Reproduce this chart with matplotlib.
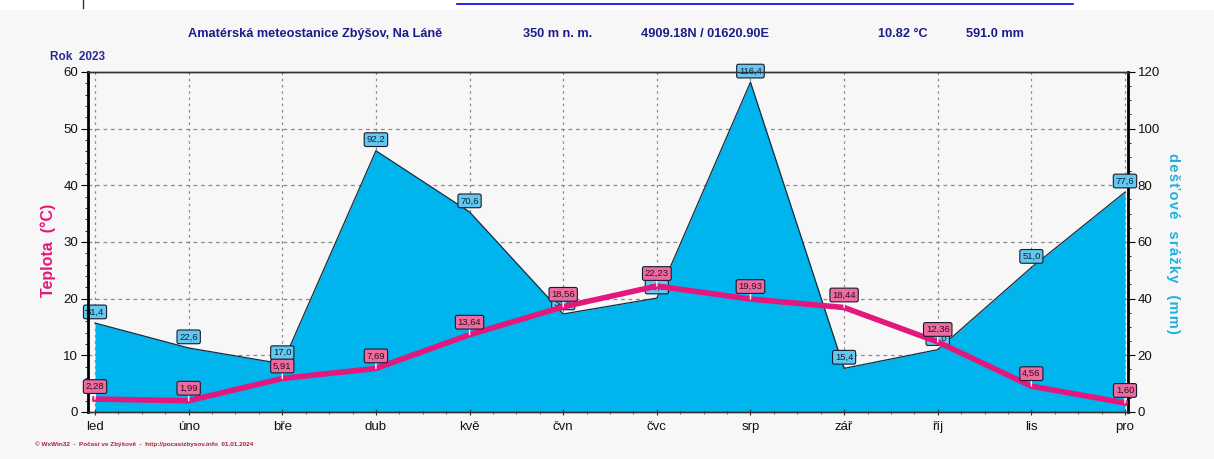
import matplotlib
matplotlib.use("Agg")
import matplotlib.pyplot as plt
from matplotlib.ticker import MultipleLocator
from matplotlib.lines import Line2D
from matplotlib.patches import Rectangle

months = ["led", "úno", "bře", "dub", "kvě", "čvn", "čvc", "srp", "zář", "říj", "lis", "pro"]
temperature = [2.28, 1.99, 5.91, 7.69, 13.64, 18.56, 22.23, 19.93, 18.44, 12.36, 4.56, 1.60]
precipitation = [31.4, 22.6, 17.0, 92.2, 70.6, 34.6, 40.2, 116.4, 15.4, 22.0, 51.0, 77.6]

title_parts = ["Amatérská meteostanice Zbýšov, Na Láně", "350 m n. m.",
               "4909.18N / 01620.90E", "10.82 °C", "591.0 mm"]
year_label = "Rok  2023"
left_label = "Teplota  (°C)"
right_label = "dešťové  srážky  (mm)"
footer = "© WxWin32  -  Počasí ve Zbýšově  -  http://pocasizbysov.info  01.01.2024"

W, H = 1214, 459
BG = "#f7f7f7"
BLUE = "#00b4ee"
PINK = "#e4177c"
TITLE_C = "#1c1c8a"

plt.rcParams['font.family'] = ['Liberation Sans', 'DejaVu Sans']

fig = plt.figure(figsize=(W / 100, H / 100), dpi=100, facecolor=BG)

# screenshot remnants: white top strip with link underline
fig.patches.append(Rectangle((0, 1 - 10 / H), 1, 10 / H, transform=fig.transFigure,
                             facecolor="white", edgecolor="none", zorder=0))
fig.lines.append(Line2D([457 / W, 1073 / W], [1 - 4 / H, 1 - 4 / H], transform=fig.transFigure,
                        color="#0000ee", lw=1.2))
fig.lines.append(Line2D([83 / W, 83 / W], [1 - 8 / H, 1.0], transform=fig.transFigure,
                        color="#333333", lw=1))

x0, x1, yb, yt = 88, 1128, 412, 72
ax = fig.add_axes([x0 / W, 1 - yb / H, (x1 - x0) / W, (yb - yt) / H])
ax2 = ax.twinx()
ax.set_zorder(2)
ax2.set_zorder(1)
ax.patch.set_visible(False)
ax2.patch.set_visible(True)
ax2.patch.set_facecolor(BG)

xs = list(range(len(months)))
ax.set_xlim(-0.075, 11.032)
ax.set_ylim(0, 60)
ax2.set_ylim(0, 120)

# grid (behind area) on ax2
ax2.xaxis.set_visible(True)
ax2.set_xticks(xs)
ax2.tick_params(axis='x', which='both', bottom=False, top=False, labelbottom=False, labeltop=False)
ax2.yaxis.set_major_locator(MultipleLocator(20))
ax2.yaxis.set_minor_locator(MultipleLocator(5))
ax2.set_axisbelow(True)
ax2.grid(True, which='major', axis='y', color="#8a8a8a", lw=0.9, ls=(0, (3, 3)))
ax2.grid(True, which='major', axis='x', color="#8a8a8a", lw=0.9, ls=(0, (2, 3)))

# precipitation area
ax2.fill_between(xs, precipitation, 0, color=BLUE, lw=0, zorder=2)
ax2.plot(xs, precipitation, color="#1a2a3a", lw=0.9, zorder=3)
for x, v in zip(xs, precipitation):
    ax2.annotate(f"{v:.1f}".replace('.', ','), (x, v), xytext=(0, 8), textcoords='offset points',
                 ha='center', va='center', fontsize=6.8, color="#10203a", zorder=5,
                 annotation_clip=False,
                 bbox=dict(boxstyle="round,pad=0.25,rounding_size=0.2", fc="#62c8ef",
                           ec="#1a1a2a", lw=0.8))

# temperature line
ax.plot(xs, temperature, color=PINK, lw=4.0, solid_joinstyle='round', zorder=3)
for x, v in zip(xs, temperature):
    ax.annotate(f"{v:.2f}".replace('.', ','), (x, v), xytext=(0, 9), textcoords='offset points',
                ha='center', va='center', fontsize=6.8, color="#2a1020", zorder=6,
                annotation_clip=False,
                bbox=dict(boxstyle="round,pad=0.25,rounding_size=0.2", fc="#ee6ba2",
                          ec="#1a1a2a", lw=0.8),
                arrowprops=dict(arrowstyle='-', color='white', lw=1.0, shrinkA=0, shrinkB=0))

# axes styling
ax.set_xticks(xs)
ax.set_xticklabels(months, fontsize=9.5, color="#111111")
ax.xaxis.set_minor_locator(MultipleLocator(0.25))
ax.tick_params(axis='x', which='major', direction='inout', length=5, width=0.8, color="#333", pad=4)
ax.tick_params(axis='x', which='minor', direction='inout', length=3, width=0.6, color="#555")
ax.yaxis.set_major_locator(MultipleLocator(10))
ax.yaxis.set_minor_locator(MultipleLocator(2))
ax.tick_params(axis='y', which='major', length=5, width=0.8, labelsize=9.5, labelcolor="#111111", pad=2)
ax.tick_params(axis='y', which='minor', length=2.5, width=0.6)
ax2.tick_params(axis='y', which='major', length=5, width=0.8, labelsize=9.5, labelcolor="#111111", pad=2)
ax2.tick_params(axis='y', which='minor', length=2.5, width=0.6)

for a in (ax, ax2):
    a.spines['top'].set_color("#333333")
    a.spines['top'].set_linewidth(1.0)
    a.spines['bottom'].set_color("#333333")
    a.spines['bottom'].set_linewidth(1.0)
ax.spines['left'].set_color("black")
ax.spines['left'].set_linewidth(2.0)
ax.spines['right'].set_visible(False)
ax2.spines['right'].set_color("black")
ax2.spines['right'].set_linewidth(2.0)
ax2.spines['left'].set_visible(False)

# texts
title_x = [188, 523, 641, 878, 966]
for tx, t in zip(title_x, title_parts):
    fig.text(tx / W, 1 - 34 / H, t, ha='left', va='center', fontsize=9.2, fontweight='bold',
             color=TITLE_C)
fig.text(50 / W, 1 - 57 / H, year_label, ha='left', va='center', fontsize=8.5,
         fontweight='bold', color="#2a2a90")
fig.text(48 / W, 1 - 250 / H, left_label, ha='center', va='center', rotation=90,
         fontsize=11.5, fontweight='bold', color=PINK)
spaced = "\u200a".join(right_label)
fig.text(1173 / W, 1 - 243 / H, spaced, ha='center', va='center', rotation=270,
         fontsize=10.5, fontweight='bold', color="#1fb0e0")
fig.text(35 / W, 1 - 444 / H, footer, ha='left', va='center', fontsize=4.6,
         fontweight='bold', color="#b02038")

fig.savefig("out.png", dpi=100, facecolor=BG)
